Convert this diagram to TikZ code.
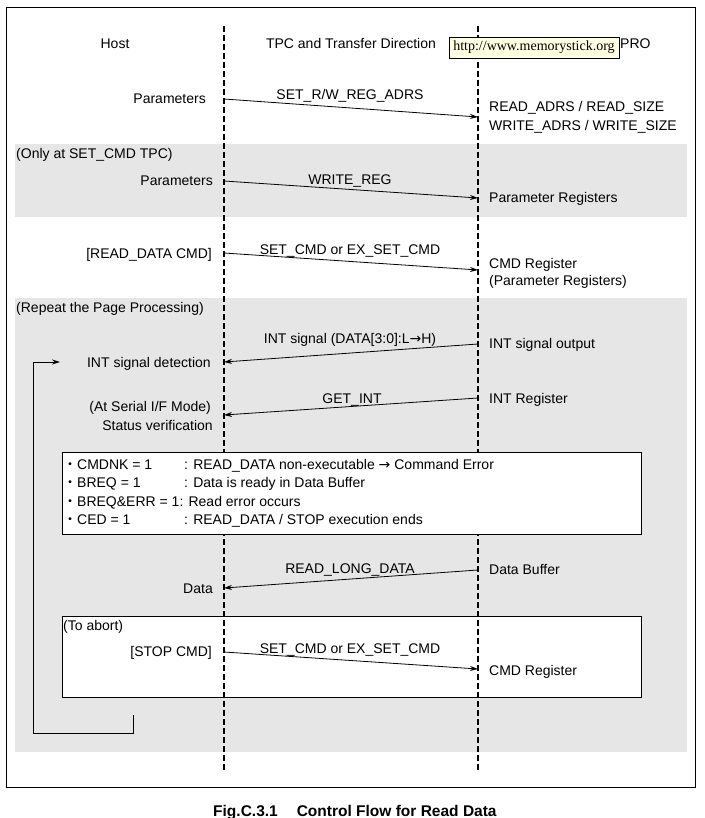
\documentclass[tikz,border=0pt]{standalone}
\usepackage{fontspec}
\setmainfont{Liberation Sans}
\newfontfamily\cjkfont{Noto Sans CJK JP}
\newfontfamily\dvsfont{DejaVu Sans}
\newfontfamily\tipfont{Liberation Serif}
\usetikzlibrary{arrows.meta}
\definecolor{panelgray}{RGB}{230,230,230}
\definecolor{tipyellow}{RGB}{255,255,225}
\newcommand{\bul}{{\cjkfont ・}}
\newcommand{\rarr}{{\dvsfont →}}
\begin{document}
\begin{tikzpicture}[x=1pt,y=-1pt,
  txt/.style={font=\fontsize{14}{16}\selectfont, inner sep=0pt},
  lbl/.style={txt, anchor=base west},
  rlbl/.style={txt, anchor=base east},
  clbl/.style={txt, anchor=base},
  msg/.style={line width=0.8pt, -{Stealth[length=8pt,width=5pt]}},
  looparrow/.style={line width=1pt, -{Stealth[length=8pt,width=5pt]}},
  lifeline/.style={line width=1.8pt, dash pattern=on 6pt off 3pt},
  framebox/.style={draw=black, line width=1pt},
]
% background and bounds
\fill[white] (0,0) rectangle (704,818);
\useasboundingbox (0,0) rectangle (704,818);

% outer frame
\draw[framebox] (6,8) rectangle (695,787);

% gray panels
\fill[panelgray] (15,144) rectangle (687,217);
\fill[panelgray] (15,298) rectangle (687,752);

% abort box (under lifelines)
\draw[framebox, fill=white] (62,616) rectangle (641,697);

% lifelines
\coordinate (hTop) at (224,26);
\coordinate (hBot) at (224,770);
\coordinate (dTop) at (478,26);
\coordinate (dBot) at (478,770);
\draw[lifeline] (hTop) -- (hBot);
\draw[lifeline] (dTop) -- (dBot);

% status box (over lifelines)
\draw[framebox, fill=white] (62,452) rectangle (641,534);

% headers
\node[clbl] (host) at (115,49) {Host};
\node[clbl] (tpc) at (351,49) {TPC and Transfer Direction};
\node[lbl] (pro) at (620,49) {PRO};
\node[draw=black, line width=0.8pt, fill=tipyellow, inner sep=0pt,
      minimum width=170pt, minimum height=21pt,
      font=\tipfont\fontsize{14}{16}\selectfont] (tip) at (534,47.5) {http://www.memorystick.org};

% section labels
\node[lbl] (only) at (16,159) {(Only at SET\_CMD TPC)};
\node[lbl] (repeat) at (16,312) {(Repeat the Page Processing)};
\node[lbl] (abort) at (63,630) {(To abort)};

% left labels
\node[rlbl] (par1) at (206,104) {Parameters};
\node[rlbl] (par2) at (213,186) {Parameters};
\node[rlbl] (rdcmd) at (212,258) {[READ\_DATA CMD]};
\node[rlbl] (intdet) at (211,367) {INT signal detection};
\node[rlbl] (serial) at (211,411) {(At Serial I/F Mode)};
\node[rlbl] (statver) at (213,430) {Status verification};
\node[rlbl] (data) at (213,593) {Data};
\node[rlbl] (stopcmd) at (212,656) {[STOP CMD]};

% right labels
\node[lbl] (radrs) at (489,112) {READ\_ADRS / READ\_SIZE};
\node[lbl] (wadrs) at (489,131) {WRITE\_ADRS / WRITE\_SIZE};
\node[lbl] (preg) at (489,203) {Parameter Registers};
\node[lbl] (cmdreg1) at (489,268) {CMD Register};
\node[lbl] (preg2) at (489,285) {(Parameter Registers)};
\node[lbl] (intout) at (489,348) {INT signal output};
\node[lbl] (intreg) at (489,403) {INT Register};
\node[lbl] (dbuf) at (489,574) {Data Buffer};
\node[lbl] (cmdreg2) at (489,675) {CMD Register};

% messages
\coordinate (m1s) at (224,99);  \coordinate (m1e) at (478,117);
\coordinate (m2s) at (224,181); \coordinate (m2e) at (478,198);
\coordinate (m3s) at (224,253); \coordinate (m3e) at (478,270);
\coordinate (m4s) at (478,344); \coordinate (m4e) at (224,362);
\coordinate (m5s) at (478,398); \coordinate (m5e) at (224,415);
\coordinate (m6s) at (478,570); \coordinate (m6e) at (224,588);
\coordinate (m7s) at (224,652); \coordinate (m7e) at (478,669);
\draw[msg] (m1s) -- (m1e);
\draw[msg] (m2s) -- (m2e);
\draw[msg] (m3s) -- (m3e);
\draw[msg] (m4s) -- (m4e);
\draw[msg] (m5s) -- (m5e);
\draw[msg] (m6s) -- (m6e);
\draw[msg] (m7s) -- (m7e);

\node[clbl] (l1) at (350,100) {SET\_R/W\_REG\_ADRS};
\node[clbl] (l2) at (350,185) {WRITE\_REG};
\node[clbl] (l3) at (350,254) {SET\_CMD or EX\_SET\_CMD};
\node[clbl] (l4) at (350,343) {INT signal (DATA[3:0]:L\rarr H)};
\node[clbl] (l5) at (352,403) {GET\_INT};
\node[clbl] (l6) at (350,573) {READ\_LONG\_DATA};
\node[clbl] (l7) at (350,653) {SET\_CMD or EX\_SET\_CMD};

% status box text
\node[lbl] (s1a) at (63,469) {\bul CMDNK = 1};
\node[lbl] (s1b) at (184,469) {: READ\_DATA non-executable \rarr{} Command Error};
\node[lbl] (s2a) at (63,487) {\bul BREQ = 1};
\node[lbl] (s2b) at (184,487) {: Data is ready in Data Buffer};
\node[lbl] (s3a) at (63,506) {\bul BREQ\&ERR = 1: Read error occurs};
\node[lbl] (s4a) at (63,524) {\bul CED = 1};
\node[lbl] (s4b) at (184,524) {: READ\_DATA / STOP execution ends};

% loop back arrow
\coordinate (loopA) at (133,715);
\coordinate (loopB) at (133,733);
\coordinate (loopC) at (33,733);
\coordinate (loopD) at (33,362);
\coordinate (loopE) at (60,362);
\draw[looparrow] (loopA) -- (loopB) -- (loopC) -- (loopD) -- (loopE);

% caption
\node[anchor=base west, inner sep=0pt, font=\bfseries\fontsize{15.5}{18}\selectfont] (caption) at (213,816)
  {Fig.C.3.1\hspace{19pt}Control Flow for Read Data};
\end{tikzpicture}
\end{document}
